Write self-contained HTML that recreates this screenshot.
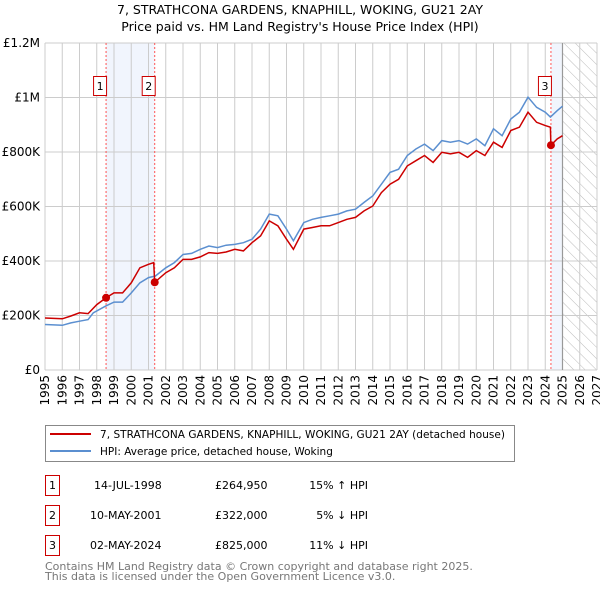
<!DOCTYPE html>
<html><head><meta charset="utf-8"><style>
body{margin:0;background:#fff;font-family:"Liberation Sans","DejaVu Sans",sans-serif;}
svg{display:block}
</style></head><body>
<svg width="600" height="590" id="c" font-family="DejaVu Sans, Liberation Sans, sans-serif">
<defs><pattern id="hatch" width="8" height="8" patternUnits="userSpaceOnUse" patternTransform="rotate(-45)"><line x1="0" y1="0" x2="0" y2="8" stroke="#bbb" stroke-width="1"/></pattern></defs>
<text x="300" y="14" text-anchor="middle" font-size="12.5">7, STRATHCONA GARDENS, KNAPHILL, WOKING, GU21 2AY</text>
<text x="300" y="31" text-anchor="middle" font-size="12.5">Price paid vs. HM Land Registry's House Price Index (HPI)</text>
<g id="plot"></g>
<rect x="45.5" y="425.5" width="469" height="36" fill="#fff" stroke="#888"/>
<line x1="50" y1="434" x2="91" y2="434" stroke="#cc0000" stroke-width="2"/>
<text x="100" y="438" font-size="10.5" textLength="405">7, STRATHCONA GARDENS, KNAPHILL, WOKING, GU21 2AY (detached house)</text>
<line x1="50" y1="451" x2="91" y2="451" stroke="#5b8fd0" stroke-width="2"/>
<text x="100" y="455" font-size="10.5">HPI: Average price, detached house, Woking</text>
<g font-size="11">
<rect x="45.5" y="475.5" width="14" height="20" fill="none" stroke="#cc0000"/><text x="52.5" y="489" text-anchor="middle">1</text>
<text x="94" y="489">14-JUL-1998</text><text x="215" y="489">£264,950</text><text x="368" y="489" text-anchor="end">15% ↑ HPI</text>
<rect x="45.5" y="505.5" width="14" height="20" fill="none" stroke="#cc0000"/><text x="52.5" y="519" text-anchor="middle">2</text>
<text x="90" y="519">10-MAY-2001</text><text x="215" y="519">£322,000</text><text x="368" y="519" text-anchor="end">5% ↓ HPI</text>
<rect x="45.5" y="535.5" width="14" height="20" fill="none" stroke="#cc0000"/><text x="52.5" y="549" text-anchor="middle">3</text>
<text x="90" y="549">02-MAY-2024</text><text x="215" y="549">£825,000</text><text x="368" y="549" text-anchor="end">11% ↓ HPI</text>
</g>
<text x="45" y="570" font-size="11" fill="#777">Contains HM Land Registry data © Crown copyright and database right 2025.</text>
<text x="45" y="580" font-size="11" fill="#777">This data is licensed under the Open Government Licence v3.0.</text>
</svg>
<script>
const hpiYears=[1995,1996,1996.5,1997,1997.5,1997.8,1998.5,1999,1999.5,2000,2000.5,2001,2001.4,2002,2002.5,2003,2003.5,2004,2004.5,2005,2005.5,2006,2006.5,2007,2007.5,2008,2008.5,2009,2009.4,2010,2010.5,2011,2011.5,2012,2012.5,2013,2013.5,2014,2014.5,2015,2015.5,2016,2016.5,2017,2017.5,2018,2018.5,2019,2019.5,2020,2020.5,2021,2021.5,2022,2022.5,2023,2023.5,2024,2024.3,2024.7,2025];
const hpiValues=[167,164,173,179,185,210,234,249,249,283,320,339,345,375,394,424,428,443,455,449,458,461,467,480,517,572,566,517,474,541,553,560,566,572,584,590,615,639,682,725,737,787,811,829,805,842,836,842,829,848,823,885,860,921,946,1001,964,946,928,952,968];
const propYears=[1995,1996,1996.5,1997,1997.5,1998,1998.54,1999,1999.5,2000,2000.5,2001,2001.3,2001.36,2002,2002.5,2003,2003.5,2004,2004.5,2005,2005.5,2006,2006.5,2007,2007.5,2008,2008.5,2009,2009.4,2010,2010.5,2011,2011.5,2012,2012.5,2013,2013.5,2014,2014.5,2015,2015.5,2016,2016.5,2017,2017.5,2018,2018.5,2019,2019.5,2020,2020.5,2021,2021.5,2022,2022.5,2023,2023.5,2024,2024.3,2024.33,2024.7,2025];
const propValues=[191,188,198,210,207,240,265,283,283,320,375,388,394,322,357,375,406,406,415,431,428,433,443,437,467,492,547,529,480,443,517,523,529,529,541,553,560,584,602,651,682,700,749,768,787,762,799,793,799,780,805,787,836,817,879,891,946,909,897,891,825,848,860];
const saleLabels=["1","2","3"];
const saleYears=[1998.54,2001.36,2024.33];
const saleValues=[264.95,322,825];
const yTicks=[0,200,400,600,800,1000,1200];
const yTickLabels=["£0","£200K","£400K","£600K","£800K","£1M","£1.2M"];
const xTicks=[1995,1996,1997,1998,1999,2000,2001,2002,2003,2004,2005,2006,2007,2008,2009,2010,2011,2012,2013,2014,2015,2016,2017,2018,2019,2020,2021,2022,2023,2024,2025,2026,2027];

const X0=45,X1=597,Y0=370,Y1=43;
const x=v=>X0+(v-1995)/(2027-1995)*(X1-X0);
const y=v=>Y0-v/1200*(Y0-Y1);
const NS="http://www.w3.org/2000/svg";
const g=document.getElementById('plot');
function mk(t,a,p){const e=document.createElementNS(NS,t);for(const k in a)e.setAttribute(k,a[k]);(p||g).appendChild(e);return e;}
let e=mk('rect',{x:x(saleYears[0]),y:Y1,width:x(saleYears[1])-x(saleYears[0]),height:Y0-Y1,fill:'#eef3fc',opacity:0.8});


e=mk('rect',{x:x(saleYears[2]),y:Y1,width:x(2025)-x(saleYears[2]),height:Y0-Y1,fill:'#eef3fc',opacity:0.8});


e=mk('rect',{x:x(2025),y:Y1,width:X1-x(2025),height:Y0-Y1,fill:'url(#hatch)'});


xTicks.forEach(t=>{const l=mk('line',{x1:x(t),x2:x(t),y1:Y1,y2:Y0,stroke:'#ccc','stroke-width':1});


const tx=mk('text',{x:0,y:0,'font-size':12,'text-anchor':'end',transform:`translate(${x(t)+4},${Y0+5}) rotate(-90)`});tx.textContent=t;

});
yTicks.forEach((t,i)=>{const l=mk('line',{x1:X0,x2:X1,y1:y(t),y2:y(t),stroke:'#ccc','stroke-width':1});


const tx=mk('text',{x:X0-5,y:y(t)+4,'font-size':12,'text-anchor':'end'});tx.textContent=yTickLabels[i];

});
e=mk('line',{x1:x(2025),x2:x(2025),y1:Y1,y2:Y0,stroke:'#999','stroke-width':1.2});


saleYears.forEach(s=>{const l=mk('line',{x1:x(s),x2:x(s),y1:Y1,y2:Y0,stroke:'#f55','stroke-width':1,'stroke-dasharray':'2,2'});

});
function pts(xs,vs){return xs.map((t,i)=>x(t).toFixed(1)+','+y(vs[i]).toFixed(1)).join(' ');}
e=mk('polyline',{points:pts(hpiYears,hpiValues),fill:'none',stroke:'#5b8fd0','stroke-width':1.5});


e=mk('polyline',{points:pts(propYears,propValues),fill:'none',stroke:'#cc0000','stroke-width':1.5});


saleYears.forEach((s,i)=>{const c=mk('circle',{cx:x(s),cy:y(saleValues[i]),r:4,fill:'#cc0000'});


const bx=x(s)-13;const r=mk('rect',{x:bx+0.5,y:76.5,width:13,height:19,fill:'#fff',stroke:'#cc0000'});


const t=mk('text',{x:bx+7,y:90,'font-size':11,'text-anchor':'middle'});t.textContent=saleLabels[i];

});
</script>
</body></html>
